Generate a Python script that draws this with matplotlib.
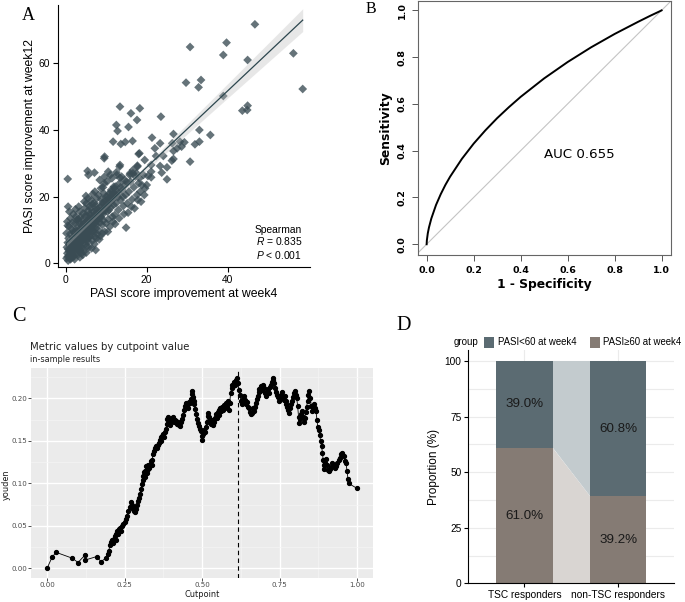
import numpy as np
import matplotlib
matplotlib.use('Agg')
import matplotlib.pyplot as plt
from matplotlib.patches import Rectangle, Polygon

plt.rcParams['mathtext.fontset'] = 'custom'
plt.rcParams['mathtext.rm'] = 'Liberation Sans'
plt.rcParams['mathtext.it'] = 'Liberation Sans:italic'

# ---------------- Panel A data: PASI improvement week4 vs week12 ----------------
week4 = [46.7, 30.7, 39.7, 38.9, 56.2, 44.9, 58.5, 29.7, 33.4, 32.8, 38.9, 43.6, 44.9, 44.8, 13.4,
         18.3, 16.1, 17.6, 23.5, 12.5, 12.8, 15.5, 11.7, 13.6, 14.7, 16.5, 21.3, 26.6, 26.3, 33.0,
         35.7, 33.0, 31.9, 29.3, 28.6, 30.7, 23.3, 18.2, 22.3, 24.1, 26.6, 26.6, 26.2, 25.0, 25.0,
         23.7, 23.3, 21.1, 21.1, 21.1, 20.3, 9.5, 5.4, 7.1, 5.6, 0.5, 0.6, 0.5, 7.4, 14.9,
         13.4, 10.5, 12.5, 13.4, 16.6, 17.7, 18.2, 9.6, 18.0, 13.3, 17.7, 27.5, 28.2, 19.5, 22.0,
         15.0, 17.5, 15.9, 20.0,
         0.2, 0.4, 0.6, 0.8, 1.0, 1.2, 1.4, 1.6, 1.8, 0.3, 0.5, 0.7, 0.9, 1.1, 1.3,
         1.5, 1.7, 1.9, 0.2, 0.4, 0.8, 1.2, 1.6, 1.9, 1.0, 1.5, 0.6, 1.3, 1.8, 0.9,
         2.0, 2.2, 2.4, 2.6, 2.8, 3.0, 3.2, 3.4, 3.6, 3.8, 2.1, 2.3, 2.5, 2.7, 2.9,
         3.1, 3.3, 3.5, 3.7, 3.9, 2.2, 2.6, 3.0, 3.4, 3.8, 2.4, 3.2, 3.6, 2.8, 3.9,
         2.0, 3.5, 2.7, 3.1, 3.7,
         4.0, 4.2, 4.4, 4.6, 4.8, 5.0, 5.2, 5.4, 5.6, 5.8, 4.1, 4.3, 4.5, 4.7, 4.9,
         5.1, 5.3, 5.5, 5.7, 5.9, 4.0, 4.4, 4.8, 5.2, 5.6, 5.0, 4.6, 5.8, 4.2, 5.4,
         4.9, 5.5, 4.3, 5.9, 5.1,
         6.0, 6.2, 6.4, 6.6, 6.8, 7.0, 7.2, 7.4, 7.6, 7.8, 6.1, 6.3, 6.5, 6.7, 6.9,
         7.1, 7.3, 7.5, 7.7, 7.9, 6.0, 6.4, 6.8, 7.2, 7.6, 6.2, 7.0, 7.8, 6.6, 7.4,
         8.0, 8.2, 8.4, 8.6, 8.8, 9.0, 9.2, 9.4, 9.6, 9.8, 8.1, 8.3, 8.5, 8.7, 8.9,
         9.1, 9.3, 9.5, 9.7, 9.9, 8.4, 9.0, 8.8, 9.6, 9.2,
         10.0, 10.3, 10.6, 10.9, 11.2, 11.5, 11.8, 10.2, 10.5, 10.8, 11.1, 11.4, 11.7, 10.1, 10.7,
         11.3, 11.9, 10.4, 11.0, 11.6,
         12.1, 12.4, 12.7, 13.0, 13.3, 13.6, 13.9, 14.2, 14.5, 14.8, 12.2, 12.6, 13.2, 13.8, 14.4,
         12.9, 13.5, 14.1, 14.7, 12.0,
         15.2, 15.6, 16.0, 16.4, 16.8, 17.2, 17.6, 18.0, 18.4, 18.8, 19.2, 19.6, 15.4, 16.2, 17.0,
         17.8, 18.6, 19.4, 15.8, 16.6,
         0.5, 1.0, 1.5, 2.0, 2.5, 3.0, 3.5, 4.0, 4.5, 5.0, 5.5, 6.0, 6.5, 7.0, 7.5,
         8.0, 8.5, 9.0, 9.5, 10.0, 10.5, 11.0, 11.5, 12.0, 12.5, 13.0, 1.2, 1.8, 2.3, 2.8,
         3.3, 3.8, 4.3, 4.8, 5.3, 5.8, 6.3, 6.8, 7.3, 7.8, 8.3, 8.8, 9.3, 9.8, 10.3,
         10.8, 11.3, 11.8, 12.3, 0.8, 1.4, 2.0, 2.6, 3.2, 3.9, 4.5, 5.2, 5.9, 6.6, 7.1]
week12 = [71.7, 64.9, 66.2, 62.5, 63.0, 61.0, 52.3, 54.2, 55.0, 52.8, 50.2, 45.8, 47.3, 46.0, 47.0,
          46.5, 45.0, 43.0, 44.0, 41.5, 39.7, 40.9, 36.5, 35.8, 36.4, 36.7, 37.7, 38.8, 36.0, 40.0,
          38.5, 36.5, 35.7, 36.3, 35.0, 30.5, 36.0, 33.0, 32.2, 32.2, 33.7, 31.3, 30.8, 28.8, 25.2,
          27.2, 29.2, 29.5, 27.5, 25.8, 26.2, 31.5, 27.7, 27.2, 26.5, 25.3, 17.0, 11.3, 4.0, 10.7,
          29.5, 27.5, 27.3, 25.7, 27.0, 29.0, 25.5, 32.0, 32.8, 29.0, 29.3, 34.5, 36.5, 31.0, 34.5,
          24.5, 27.0, 27.0, 23.5,
          1.5, 3.0, 0.8, 2.2, 4.0, 1.2, 3.3, 5.2, 2.5, 4.8, 6.2, 7.5, 5.6, 8.8, 6.7,
          10.2, 7.8, 9.5, 9.0, 12.5, 11.0, 13.5, 12.2, 14.8, 2.6, 1.8, 4.2, 5.0, 6.0, 15.5,
          2.0, 4.5, 6.8, 3.0, 8.5, 5.5, 10.0, 7.2, 4.0, 11.5, 9.2, 12.0, 14.0, 10.8, 6.2,
          13.2, 3.5, 15.5, 8.8, 6.5, 1.2, 5.8, 2.5, 12.5, 9.8, 16.2, 17.0, 13.8, 4.2, 3.0,
          7.5, 1.8, 13.0, 8.0, 5.0,
          4.5, 7.0, 9.5, 12.0, 5.8, 14.5, 8.2, 10.8, 6.5, 13.2, 11.2, 15.0, 3.5, 16.5, 9.0,
          18.0, 11.8, 15.8, 4.8, 17.2, 13.0, 6.0, 14.0, 5.0, 12.5, 20.2, 18.5, 9.8, 2.5, 7.5,
          11.0, 19.5, 8.5, 14.8, 3.2,
          8.0, 10.5, 13.0, 6.8, 15.5, 9.2, 12.0, 17.5, 7.5, 14.2, 16.5, 19.0, 11.2, 20.8, 13.8,
          5.8, 16.0, 10.5, 19.5, 12.8, 12.2, 4.5, 9.8, 21.5, 15.0, 14.5, 18.0, 8.8, 17.8, 11.5,
          10.0, 13.5, 16.8, 8.2, 19.2, 11.5, 14.8, 21.0, 9.5, 17.5, 20.5, 7.2, 12.2, 22.5, 15.2,
          18.2, 12.8, 24.0, 15.8, 20.0, 25.0, 9.0, 13.8, 26.0, 22.8,
          12.0, 15.5, 19.5, 11.0, 22.0, 14.0, 17.5, 24.5, 13.2, 21.0, 16.8, 25.5, 12.5, 18.2, 16.0,
          19.5, 23.0, 9.5, 26.5, 20.8,
          14.5, 18.0, 21.5, 16.0, 24.0, 19.0, 22.0, 17.2, 25.0, 20.5, 11.8, 26.5, 13.5, 26.0, 14.8,
          19.8, 22.8, 20.0, 23.5, 22.5,
          18.0, 21.5, 24.5, 19.2, 22.8, 26.0, 20.5, 24.0, 21.5, 23.5, 26.5, 22.5, 15.2, 17.0, 16.5,
          19.0, 18.5, 20.5, 26.5, 28.0,
          2.0, 1.5, 3.0, 4.0, 4.5, 6.5, 6.0, 7.5, 8.0, 9.5, 9.0, 10.5, 11.0, 12.5, 13.0,
          14.5, 14.0, 15.5, 16.5, 17.0, 17.5, 18.5, 19.0, 20.0, 20.5, 21.0, 4.5, 3.8, 5.8, 7.0,
          8.2, 7.0, 9.8, 10.5, 12.8, 11.5, 13.5, 12.8, 14.8, 16.2, 15.5, 17.0, 18.0, 18.8, 20.0,
          19.0, 21.5, 21.0, 23.0, 3.5, 6.0, 5.2, 9.8, 4.8, 10.2, 11.5, 6.8, 8.0, 9.5, 8.0]
spearman_r = 0.835

# ---------------- Panel B data: ROC curve ----------------
fpr = [0.0, 0.001, 0.005, 0.01, 0.02, 0.04, 0.06, 0.08, 0.10, 0.15, 0.20, 0.25, 0.30, 0.35,
       0.40, 0.50, 0.60, 0.70, 0.80, 0.90, 0.95, 0.99, 1.0]
tpr = [0.0, 0.017, 0.047, 0.072, 0.110, 0.168, 0.214, 0.254, 0.289, 0.365, 0.430, 0.487, 0.539,
       0.586, 0.630, 0.709, 0.779, 0.842, 0.899, 0.951, 0.976, 0.995, 1.0]
auc = 0.655

# ---------------- Panel C data: Youden index by cutpoint ----------------
cutpoint = [0.000, 0.016, 0.029, 0.082, 0.100, 0.123, 0.124, 0.160, 0.174, 0.189,
            0.196, 0.199, 0.203, 0.206, 0.209, 0.212, 0.215, 0.218, 0.221, 0.224,
            0.227, 0.229, 0.232, 0.235, 0.238, 0.241, 0.245, 0.250, 0.254, 0.258,
            0.262, 0.266, 0.270, 0.273, 0.276, 0.279, 0.282, 0.285, 0.288, 0.291,
            0.294, 0.297, 0.300, 0.303, 0.306, 0.309, 0.311, 0.313, 0.315, 0.317,
            0.319, 0.321, 0.323, 0.325, 0.327, 0.329, 0.331, 0.334, 0.337, 0.339,
            0.342, 0.345, 0.348, 0.351, 0.354, 0.357, 0.360, 0.363, 0.366, 0.369,
            0.372, 0.375, 0.378, 0.381, 0.384, 0.386, 0.388, 0.390, 0.393, 0.396,
            0.399, 0.402, 0.405, 0.408, 0.411, 0.414, 0.417, 0.420, 0.423, 0.426,
            0.429, 0.432, 0.435, 0.438, 0.441, 0.444, 0.447, 0.450, 0.453, 0.456,
            0.459, 0.462, 0.465, 0.467, 0.469, 0.471, 0.473, 0.475, 0.478, 0.481,
            0.484, 0.487, 0.490, 0.493, 0.496, 0.499, 0.501, 0.503, 0.506, 0.509,
            0.512, 0.515, 0.518, 0.520, 0.523, 0.526, 0.529, 0.532, 0.535, 0.538,
            0.541, 0.544, 0.547, 0.550, 0.553, 0.556, 0.559, 0.562, 0.565, 0.568,
            0.571, 0.574, 0.577, 0.580, 0.583, 0.586, 0.589, 0.592, 0.595, 0.598,
            0.601, 0.604, 0.607, 0.610, 0.613, 0.616, 0.619, 0.622, 0.625, 0.628,
            0.631, 0.634, 0.637, 0.640, 0.643, 0.646, 0.649, 0.652, 0.655, 0.658,
            0.661, 0.664, 0.667, 0.670, 0.673, 0.676, 0.679, 0.682, 0.685, 0.688,
            0.691, 0.694, 0.697, 0.700, 0.703, 0.706, 0.709, 0.712, 0.715, 0.718,
            0.721, 0.724, 0.727, 0.730, 0.733, 0.736, 0.739, 0.742, 0.745, 0.748,
            0.751, 0.754, 0.757, 0.760, 0.763, 0.766, 0.769, 0.772, 0.775, 0.778,
            0.781, 0.784, 0.787, 0.790, 0.793, 0.796, 0.799, 0.802, 0.805, 0.808,
            0.811, 0.813, 0.816, 0.819, 0.822, 0.825, 0.828, 0.831, 0.834, 0.837,
            0.840, 0.843, 0.846, 0.849, 0.852, 0.855, 0.858, 0.861, 0.864, 0.867,
            0.870, 0.873, 0.876, 0.879, 0.882, 0.885, 0.888, 0.890, 0.892, 0.894,
            0.897, 0.900, 0.903, 0.906, 0.909, 0.912, 0.916, 0.920, 0.924, 0.928,
            0.932, 0.936, 0.940, 0.944, 0.948, 0.952, 0.956, 0.960, 0.964, 0.967,
            0.970, 0.972, 1.000]
youden = [0.000, 0.013, 0.019, 0.012, 0.007, 0.016, 0.010, 0.014, 0.008, 0.012,
          0.017, 0.021, 0.027, 0.031, 0.033, 0.030, 0.035, 0.038, 0.034, 0.041,
          0.044, 0.040, 0.046, 0.048, 0.044, 0.050, 0.052, 0.055, 0.058, 0.062,
          0.067, 0.072, 0.078, 0.074, 0.070, 0.072, 0.067, 0.066, 0.070, 0.075,
          0.079, 0.083, 0.088, 0.093, 0.099, 0.104, 0.109, 0.113, 0.108, 0.115,
          0.120, 0.116, 0.112, 0.117, 0.121, 0.118, 0.122, 0.126, 0.122, 0.128,
          0.134, 0.138, 0.141, 0.144, 0.142, 0.145, 0.148, 0.151, 0.154, 0.150,
          0.156, 0.158, 0.155, 0.160, 0.164, 0.170, 0.176, 0.178, 0.172, 0.168,
          0.173, 0.177, 0.178, 0.175, 0.172, 0.175, 0.173, 0.170, 0.172, 0.169,
          0.167, 0.172, 0.176, 0.180, 0.186, 0.191, 0.194, 0.192, 0.189, 0.193,
          0.196, 0.194, 0.199, 0.205, 0.208, 0.202, 0.197, 0.193, 0.187, 0.181,
          0.176, 0.171, 0.167, 0.164, 0.162, 0.156, 0.151, 0.158, 0.163, 0.160,
          0.166, 0.172, 0.179, 0.183, 0.178, 0.174, 0.170, 0.175, 0.168, 0.172,
          0.177, 0.181, 0.177, 0.184, 0.180, 0.186, 0.189, 0.185, 0.190, 0.186,
          0.192, 0.188, 0.194, 0.190, 0.197, 0.186, 0.195, 0.206, 0.212, 0.216,
          0.214, 0.219, 0.216, 0.221, 0.224, 0.218, 0.210, 0.204, 0.197, 0.193,
          0.199, 0.203, 0.198, 0.195, 0.193, 0.196, 0.190, 0.188, 0.184, 0.181,
          0.183, 0.188, 0.185, 0.190, 0.195, 0.199, 0.203, 0.207, 0.211, 0.208,
          0.214, 0.210, 0.216, 0.212, 0.206, 0.203, 0.207, 0.211, 0.206, 0.213,
          0.216, 0.219, 0.222, 0.224, 0.218, 0.212, 0.207, 0.204, 0.201, 0.197,
          0.200, 0.204, 0.207, 0.202, 0.198, 0.203, 0.197, 0.193, 0.190, 0.186,
          0.183, 0.188, 0.193, 0.197, 0.202, 0.206, 0.208, 0.204, 0.200, 0.191,
          0.178, 0.171, 0.176, 0.181, 0.185, 0.178, 0.172, 0.177, 0.184, 0.190,
          0.197, 0.204, 0.209, 0.200, 0.191, 0.185, 0.190, 0.193, 0.188, 0.185,
          0.175, 0.166, 0.163, 0.157, 0.150, 0.144, 0.136, 0.128, 0.121, 0.117,
          0.124, 0.129, 0.122, 0.116, 0.114, 0.117, 0.119, 0.124, 0.122, 0.118,
          0.120, 0.124, 0.127, 0.130, 0.134, 0.136, 0.132, 0.126, 0.124, 0.115,
          0.105, 0.100, 0.094]
optimal_cutpoint = 0.615

# ---------------- Panel D data: stacked proportions ----------------
groups_D = ['TSC responders', 'non-TSC responders']
legend_title_D = 'group'
series_D = ['PASI<60 at week4', 'PASI\u226560 at week4']
pct_below60 = [39.0, 60.8]
pct_above60 = [61.0, 39.2]

# ============================ drawing ============================
W, H = 685, 602
fig = plt.figure(figsize=(W / 100, H / 100), dpi=100)


def ax_px(l, t, r, b):
    return fig.add_axes([l / W, 1 - b / H, (r - l) / W, (b - t) / H])


SANS = 'Liberation Sans'
SERIF = 'Liberation Serif'

# ---------------- Panel A ----------------
axA = ax_px(58, 5, 310, 267.3)
x4 = np.array(week4)
y12 = np.array(week12)
axA.scatter(x4, y12, marker='D', s=20, color='#3a4c54', alpha=0.78, edgecolors='none', zorder=3)
b1, b0 = np.polyfit(x4, y12, 1)
xs = np.linspace(x4.min(), x4.max(), 200)
yhat = b0 + b1 * xs
n = len(x4)
res = y12 - (b0 + b1 * x4)
s = np.sqrt(np.sum(res ** 2) / (n - 2))
sxx = np.sum((x4 - x4.mean()) ** 2)
se = s * np.sqrt(1 / n + (xs - x4.mean()) ** 2 / sxx)
axA.fill_between(xs, yhat - 1.968 * se, yhat + 1.968 * se, color='#bdbdbd', alpha=0.35, lw=0, zorder=4)
axA.plot(xs, yhat, color='#2c464e', lw=0.9, zorder=5)
axA.set_xlim(-1.9, 60.3)
axA.set_ylim(-1.2, 77.5)
axA.set_xticks([0, 20, 40])
axA.set_yticks([0, 20, 40, 60])
for sp in ['top', 'right']:
    axA.spines[sp].set_visible(False)
for sp in ['left', 'bottom']:
    axA.spines[sp].set_linewidth(0.8)
axA.tick_params(direction='out', length=3.5, width=0.8, labelsize=7.4, pad=2)
for lab in axA.get_xticklabels() + axA.get_yticklabels():
    lab.set_fontfamily(SANS)
axA.set_xlabel('PASI score improvement at week4', fontsize=8.8, family=SANS, labelpad=2)
axA.set_ylabel('PASI score improvement at week12', fontsize=8.8, family=SANS, labelpad=2)
axA.text(0.968, 0.142, 'Spearman', transform=axA.transAxes, ha='right', va='center', fontsize=7.4, family=SANS)
axA.text(0.968, 0.101, '$\\mathit{R}$ = %.3f' % spearman_r, transform=axA.transAxes, ha='right', va='center', fontsize=7.4, family=SANS)
axA.text(0.968, 0.047, '$\\mathit{P}$ < 0.001', transform=axA.transAxes, ha='right', va='center', fontsize=7.4, family=SANS)

# ---------------- Panel B ----------------
axB = ax_px(417.7, 1, 671, 255)
axB.axline((0, 0), (1, 1), color='#c4c4c4', lw=0.8, zorder=1)
axB.plot(fpr, tpr, color='black', lw=1.4, zorder=3)
axB.set_xlim(-0.038, 1.04)
axB.set_ylim(-0.046, 1.04)
ticksB = [0.0, 0.2, 0.4, 0.6, 0.8, 1.0]
axB.set_xticks(ticksB)
axB.set_yticks(ticksB)
axB.set_xticklabels(['%.1f' % t for t in ticksB], fontweight='bold', fontsize=6.8, family='DejaVu Sans')
axB.set_yticklabels(['%.1f' % t for t in ticksB], fontweight='bold', fontsize=6.8, family='DejaVu Sans',
                    rotation=90, va='center')
for sp in axB.spines.values():
    sp.set_color('#666666')
    sp.set_linewidth(0.8)
axB.tick_params(direction='out', length=4, width=0.7, color='#555555', pad=4)
axB.set_xlabel('1 - Specificity', fontsize=8.9, fontweight='bold', family='DejaVu Sans', labelpad=2)
axB.set_ylabel('Sensitivity', fontsize=8.9, fontweight='bold', family='DejaVu Sans', labelpad=4)
axB.text(0.651, 0.385, 'AUC %.3f' % auc, ha='center', va='center', fontsize=9.6, family='DejaVu Sans')

# ---------------- Panel C ----------------
axC = ax_px(31.5, 368.3, 372.7, 578)
axC.set_facecolor('#ebebeb')
axC.set_xlim(-0.05, 1.05)
axC.set_ylim(-0.0112, 0.2352)
axC.set_xticks([0, 0.25, 0.5, 0.75, 1.0])
axC.set_yticks([0, 0.05, 0.10, 0.15, 0.20])
axC.set_xticks([0.125, 0.375, 0.625, 0.875], minor=True)
axC.set_yticks([0.025, 0.075, 0.125, 0.175, 0.225], minor=True)
axC.set_xticklabels(['0.00', '0.25', '0.50', '0.75', '1.00'])
axC.set_yticklabels(['0.00', '0.05', '0.10', '0.15', '0.20'])
axC.grid(which='major', color='white', lw=1.0)
axC.grid(which='minor', color='#f5f5f5', lw=0.5)
axC.set_axisbelow(True)
for sp in axC.spines.values():
    sp.set_visible(False)
axC.tick_params(which='major', direction='out', length=2, width=0.6, color='#333333',
                labelsize=5.1, labelcolor='#4d4d4d', pad=1.2)
axC.tick_params(which='minor', length=0)
axC.plot(cutpoint, youden, color='black', lw=0.6, marker='o', markersize=2.8, zorder=3)
axC.axvline(optimal_cutpoint, color='black', lw=0.8, ls=(0, (4, 3)), zorder=2)
fig.text(202 / W, 1 - 594.5 / H, 'Cutpoint', ha='center', va='center', fontsize=5.9, color='#1a1a1a')
fig.text(6 / W, 1 - 485 / H, 'youden', ha='center', va='center', rotation=90, fontsize=5.9, color='#1a1a1a')
fig.text(30 / W, 1 - 346.7 / H, 'Metric values by cutpoint value', ha='left', va='center', fontsize=7.3, color='#222222')
fig.text(30 / W, 1 - 360 / H, 'in-sample results', ha='left', va='center', fontsize=5.9, color='#222222')

# ---------------- Panel D ----------------
axD = ax_px(468.3, 350, 674.3, 583.3)
col_low = '#5b6b72'
col_high = '#857b74'
flow_low = '#c3cbce'
flow_high = '#d9d5d2'
xpos = np.arange(1, len(groups_D) + 1)
bw = 0.6
axD.set_xlim(0.4, 2.6)
axD.set_ylim(0, 105)
axD.set_yticks([0, 25, 50, 75, 100])
axD.set_yticks([12.5, 37.5, 62.5, 87.5], minor=True)
axD.set_xticks(xpos)
axD.set_xticklabels(groups_D, fontsize=7.3, family=SANS)
for lab in axD.get_yticklabels():
    lab.set_fontfamily(SANS)
axD.grid(axis='y', which='both', color='#ebebeb', lw=0.8)
axD.grid(axis='x', which='major', color='#ebebeb', lw=0.8)
axD.set_axisbelow(True)
# alluvial flows between bars
xa, xb = xpos[0] + bw / 2, xpos[1] - bw / 2
axD.add_patch(Polygon([(xa, 0), (xa, pct_above60[0]), (xb, pct_above60[1]), (xb, 0)],
                      closed=True, facecolor=flow_high, edgecolor='none', zorder=1.5))
axD.add_patch(Polygon([(xa, pct_above60[0]), (xa, 100), (xb, 100), (xb, pct_above60[1])],
                      closed=True, facecolor=flow_low, edgecolor='none', zorder=1.5))
axD.bar(xpos, pct_above60, width=bw, color=col_high, zorder=2)
axD.bar(xpos, pct_below60, width=bw, bottom=pct_above60, color=col_low, zorder=2)
for i in range(len(xpos)):
    axD.text(xpos[i], pct_above60[i] / 2, '%.1f%%' % pct_above60[i], ha='center', va='center',
             fontsize=9.6, family=SANS, color='#1a1a1a', zorder=3)
    axD.text(xpos[i], pct_above60[i] + pct_below60[i] / 2, '%.1f%%' % pct_below60[i], ha='center',
             va='center', fontsize=9.6, family=SANS, color='#1a1a1a', zorder=3)
for sp in ['top', 'right']:
    axD.spines[sp].set_visible(False)
for sp in ['left', 'bottom']:
    axD.spines[sp].set_linewidth(0.8)
axD.tick_params(which='major', direction='out', length=3, width=0.8, labelsize=7.3, pad=2)
axD.tick_params(which='minor', length=0)
axD.set_ylabel('Proportion (%)', fontsize=8.5, family=SANS, labelpad=3)
# legend on top
ly = 1 - 342 / H
fig.text(454 / W, ly, legend_title_D, ha='left', va='center', fontsize=7.0, family=SANS)
for bx, tx, col, lab in [(484, 498, col_low, series_D[0]), (590, 603, col_high, series_D[1])]:
    fig.add_artist(Rectangle((bx / W, 1 - 347.5 / H), 10 / W, 11 / H, transform=fig.transFigure,
                             facecolor=col, edgecolor='none'))
    fig.text(tx / W, ly, lab, ha='left', va='center', fontsize=6.9, family=SANS)

# ---------------- panel letters ----------------
fig.text(28.3 / W, 1 - 15.5 / H, 'A', ha='center', va='center', fontsize=13, family=SERIF)
fig.text(370.7 / W, 1 - 9 / H, 'B', ha='center', va='center', fontsize=11.5, family=SERIF)
fig.text(18.8 / W, 1 - 316.3 / H, 'C', ha='center', va='center', fontsize=14.5, family=SERIF)
fig.text(403.8 / W, 1 - 325 / H, 'D', ha='center', va='center', fontsize=14.5, family=SERIF)

fig.savefig('out.png', dpi=100)
